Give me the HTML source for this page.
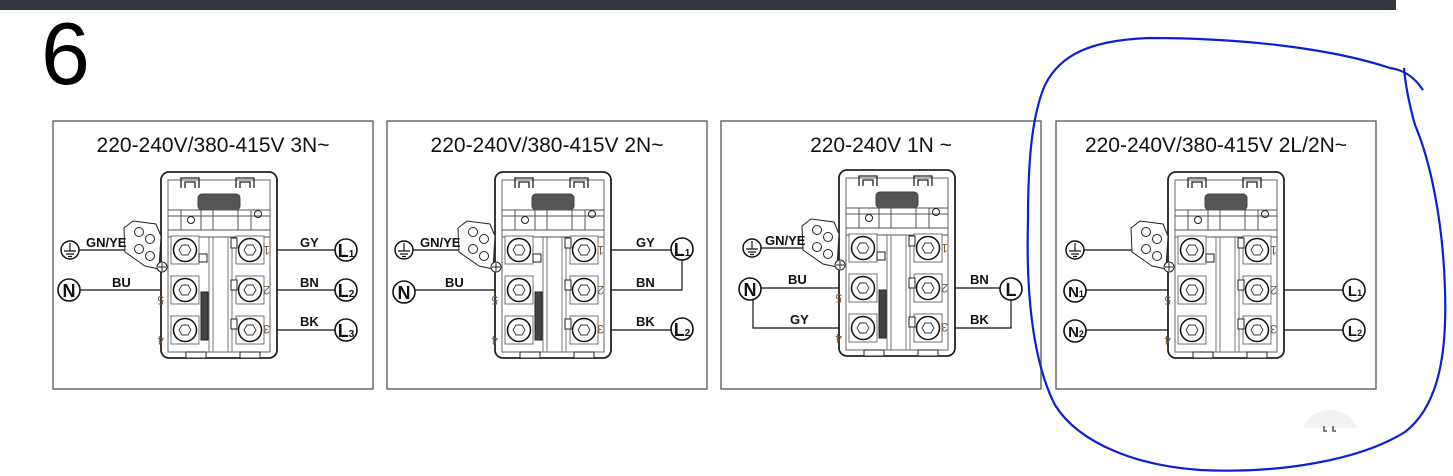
<!DOCTYPE html>
<html><head><meta charset="utf-8"><style>
html,body{margin:0;padding:0;background:#fff;width:1453px;height:476px;overflow:hidden}
svg{display:block}
text{font-family:"Liberation Sans",sans-serif}
</style></head><body>
<svg width="1453" height="476" viewBox="0 0 1453 476" xmlns="http://www.w3.org/2000/svg">
<defs>
<g id="scr">
<rect x="-14" y="-14" width="28" height="28" fill="#fff" stroke="#666" stroke-width="0.9"/>
<circle r="11.5" fill="#fff" stroke="#111" stroke-width="1.5"/>
<polygon points="-3,-5 3,-5 6,0 3,5 -3,5 -6,0" fill="none" stroke="#333" stroke-width="0.9"/>
</g>
<g id="blk" fill="none" stroke="#222" stroke-width="1">
<rect x="0" y="0" width="116" height="186" rx="8" stroke-width="1.8" fill="#fff"/>
<rect x="7" y="8" width="102" height="172" stroke="#666"/>
<path d="M20 16 v-10 h18 v10 M24 16 v-6 h10 v6 M75 16 v-10 h18 v10 M79 16 v-6 h10 v6" stroke-width="1.3"/>
<rect x="37" y="22" width="42" height="16" rx="4" fill="#555" stroke="#444"/>
<path d="M7 38 H109 M7 44 H109 M7 58 H109 M20 38 v20 M40 38 v20 M52 38 v20 M77 38 v20 M90 38 v20" stroke="#555"/>
<circle cx="30" cy="48" r="3.5"/>
<circle cx="97" cy="42" r="3.5"/>
<path d="M7 65 H109" stroke="#555"/>
<path d="M48 65 V180 M52 65 V180 M67 65 V180 M71 65 V180" stroke="#777"/>
<path d="M0 64 L-5 52 L-28 49 L-37 56 L-36 80 L-16 94 L-2 97 Z" fill="#fff" stroke="#222"/>
<circle cx="-22" cy="60" r="4.5"/><circle cx="-11" cy="67" r="4.5"/>
<circle cx="-22" cy="77" r="4.5"/><circle cx="-11" cy="84" r="4.5"/>
<circle cx="1" cy="95" r="5" fill="#fff"/><path d="M-3 95 h8 M1 91 v8"/>
<use href="#scr" x="24" y="78"/><use href="#scr" x="24" y="118"/><use href="#scr" x="24" y="158"/>
<use href="#scr" x="89" y="78"/><use href="#scr" x="89" y="118"/><use href="#scr" x="89" y="158"/>
<rect x="38" y="82" width="8" height="8" fill="#fff"/>
<rect x="70" y="66" width="6" height="10" fill="#fff"/>
<rect x="70" y="108" width="6" height="10" fill="#fff"/>
<rect x="70" y="147" width="6" height="10" fill="#fff"/>
<rect x="25" y="180" width="20" height="6" fill="#fff"/>
<rect x="79" y="180" width="20" height="6" fill="#fff"/>
</g>
<g id="jmp"><rect x="201" y="292" width="7" height="48" fill="#444" stroke="#222"/></g>
<g id="nums" font-size="12" fill="#7a5a3a">
<text transform="translate(270,246) rotate(180)">1</text>
<text transform="translate(270,286) rotate(180)">2</text>
<text transform="translate(270,325) rotate(180)">3</text>
<text transform="translate(164,296) rotate(180)">5</text>
<text transform="translate(164,336) rotate(180)">4</text>
</g>
<g id="gnd"><circle r="9" fill="#fff" stroke="#111" stroke-width="1.5"/><path d="M0 -7 V1 M-6 1 H6 M-4 4 H4 M-2 6.5 H2" stroke="#111" stroke-width="1.2"/></g>
</defs>
<rect x="0" y="0" width="1396" height="10" fill="#33363a"/>
<text x="41" y="84" font-size="88">6</text>

<g fill="none" stroke="#555" stroke-width="1.3">
<rect x="53" y="121" width="320" height="268"/>
<rect x="387" y="121" width="320" height="268"/>
<rect x="721" y="121" width="320" height="268"/>
<rect x="1056" y="121" width="320" height="268"/>
</g>
<g font-size="21" fill="#111" text-anchor="middle">
<text x="213" y="152">220-240V/380-415V 3N~</text>
<text x="547" y="152">220-240V/380-415V 2N~</text>
<text x="881" y="152">220-240V 1N ~</text>
<text x="1216" y="152">220-240V/380-415V 2L/2N~</text>
</g>

<g>
<g stroke="#111" stroke-width="1.2" fill="none">
<path d="M78 250 H185 M80 290 H185 M250 250 H335 M250 290 H335 M250 330 H335"/>
</g>
<use href="#blk" x="161" y="172"/>
<use href="#jmp"/>
<use href="#nums"/>
<use href="#gnd" x="70" y="250"/>
</g>
<g transform="translate(334,0)">
<g stroke="#111" stroke-width="1.2" fill="none">
<path d="M78 250 H185 M80 290 H185 M250 250 H337 M250 290 H348 V259 M250 330 H337"/>
</g>
<use href="#blk" x="161" y="172"/>
<use href="#jmp"/>
<use href="#nums"/>
<use href="#gnd" x="70" y="250"/>
</g>
<g transform="translate(678,-2)">
<g stroke="#111" stroke-width="1.2" fill="none">
<path d="M78 250 H185 M82 290 H185 M75 300 V330 H185 M251 290 H323 M251 330 H333 V300"/>
</g>
<use href="#blk" x="161" y="172"/>
<use href="#jmp"/>
<use href="#nums"/>
<use href="#gnd" x="74" y="250"/>
</g>
<g transform="translate(1007,0)">
<g stroke="#111" stroke-width="1.2" fill="none">
<path d="M76 250 H185 M78 290 H185 M78 330 H185 M250 290 H339 M250 330 H339"/>
</g>
<use href="#blk" x="161" y="172"/>
<use href="#nums"/>
<use href="#gnd" x="68" y="250"/>
</g>

<g fill="#fff" stroke="#111" stroke-width="1.6">
<circle cx="69" cy="290" r="11"/><circle cx="346" cy="250" r="11"/><circle cx="346" cy="290" r="11"/><circle cx="346" cy="330" r="11"/>
<circle cx="404" cy="292" r="11"/><circle cx="682" cy="249" r="11"/><circle cx="682" cy="329" r="11"/>
<circle cx="750" cy="289" r="11"/><circle cx="1011" cy="289" r="11"/>
<circle cx="1075" cy="291" r="11"/><circle cx="1075" cy="331" r="11"/><circle cx="1354" cy="290" r="11"/><circle cx="1354" cy="330" r="11"/>
</g>
<g font-size="18" font-weight="bold" fill="#111" text-anchor="middle">
<text x="69" y="297">N</text><text x="346" y="257">L<tspan font-size="10">1</tspan></text><text x="346" y="297">L<tspan font-size="10">2</tspan></text><text x="346" y="337">L<tspan font-size="10">3</tspan></text>
<text x="404" y="299">N</text><text x="682" y="256">L<tspan font-size="10">1</tspan></text><text x="682" y="336">L<tspan font-size="10">2</tspan></text>
<text x="750" y="296">N</text><text x="1011" y="296">L</text>
</g>
<g font-size="15" font-weight="bold" fill="#111" text-anchor="middle">
<text x="1076" y="297">N<tspan font-size="9">1</tspan></text><text x="1076" y="337">N<tspan font-size="9">2</tspan></text><text x="1355" y="296">L<tspan font-size="9">1</tspan></text><text x="1355" y="336">L<tspan font-size="9">2</tspan></text>
</g>
<g font-size="13" font-weight="bold" fill="#111">
<text x="86" y="247">GN/YE</text><text x="112" y="287">BU</text><text x="300" y="247">GY</text><text x="300" y="287">BN</text><text x="300" y="326">BK</text>
<text x="420" y="247">GN/YE</text><text x="445" y="287">BU</text><text x="636" y="247">GY</text><text x="636" y="287">BN</text><text x="636" y="326">BK</text>
<text x="765" y="245">GN/YE</text><text x="788" y="284">BU</text><text x="790" y="324">GY</text><text x="970" y="284">BN</text><text x="970" y="324">BK</text>
</g>

<circle cx="1330" cy="440" r="30" fill="#f2f2f2"/>
<rect x="1290" y="428" width="80" height="48" fill="#fff"/>
<path d="M1324 426 v5 h3 M1333 426 v5 h3" stroke="#555" stroke-width="1.5" fill="none"/>

<path d="M1423 90 C1415 78 1405 70 1390 68 C1330 48 1240 38 1150 38 C1090 40 1060 55 1045 85 C1032 115 1028 160 1028 220 C1026 290 1032 360 1055 405 C1080 445 1140 466 1200 470 C1280 474 1360 460 1405 432 C1440 405 1447 350 1445 290 C1443 220 1430 160 1415 125 C1408 100 1405 80 1404 68" fill="none" stroke="#0a1fd6" stroke-width="2.2"/>
</svg>
</body></html>
